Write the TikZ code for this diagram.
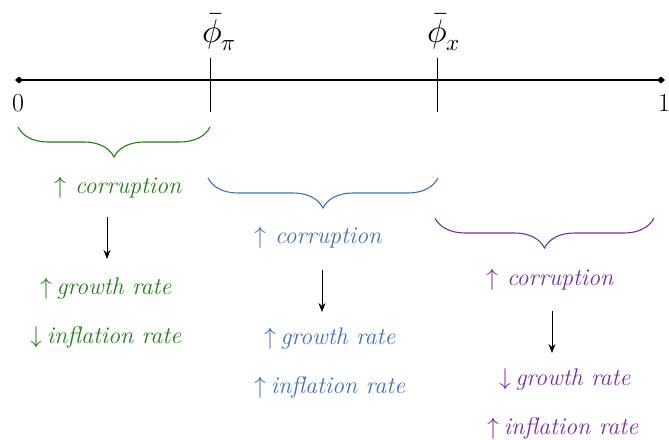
\documentclass[tikz,border=0pt]{standalone}
\usepackage{fontspec}
\usepackage{unicode-math}
\setmathfont{Latin Modern Math}
\usetikzlibrary{decorations.pathreplacing,arrows.meta}
\definecolor{cgreen}{RGB}{40,122,30}
\definecolor{cblue}{RGB}{72,112,168}
\definecolor{cpurple}{RGB}{116,50,150}
\tikzset{
  txt/.style={font=\fontsize{24}{28}\selectfont\itshape, inner sep=0pt, anchor=center},
  lbl/.style={font=\fontsize{26}{30}\selectfont, inner sep=0pt},
  phil/.style={font=\fontsize{33}{38}\selectfont, inner sep=0pt},
  bracebox/.style={decorate, decoration={brace, mirror, amplitude=30pt, aspect=0.5}, line width=1.1pt},
  flow/.style={-{Stealth[length=9pt,width=7pt]}, line width=0.8pt},
}
\begin{document}
\begin{tikzpicture}[x=1pt,y=-1pt]
\useasboundingbox (0,0) rectangle (669,439);
% axis
\coordinate (a0) at (15,80);
\coordinate (a1) at (665,80);
\draw[line width=1.6pt, {Diamond[length=8pt,width=7pt]}-{Diamond[length=8pt,width=7pt]}] (a0) -- (a1);
\coordinate (tp1) at (210,58); \coordinate (tp2) at (210,112);
\coordinate (tx1) at (437,58); \coordinate (tx2) at (437,112);
\draw[line width=0.8pt] (tp1) -- (tp2);
\draw[line width=0.8pt] (tx1) -- (tx2);
\node[lbl] (z0) at (18,103) {0};
\node[lbl] (z1) at (664,103) {1};
\node[phil] (phipi) at (219,32) {$\bar{\phi}_{\pi}$};
\node[phil] (phix) at (444,32) {$\bar{\phi}_{x}$};
% green
\coordinate (gb1) at (18,127); \coordinate (gb2) at (210,127);
\draw[bracebox, cgreen] (gb1) -- (gb2);
\node[txt, cgreen] (g1) at (118,188) {$\uparrow$\ corruption};
\coordinate (ga1) at (107,217); \coordinate (ga2) at (107,259);
\draw[flow] (ga1) -- (ga2);
\node[txt, cgreen] (g2) at (106,289) {$\uparrow$\,growth rate};
\node[txt, cgreen] (g3) at (106,337) {$\downarrow$\,inflation rate};
% blue
\coordinate (bb1) at (208,178); \coordinate (bb2) at (438,178);
\draw[bracebox, cblue] (bb1) -- (bb2);
\node[txt, cblue] (b1) at (318,238) {$\uparrow$\ corruption};
\coordinate (ba1) at (322,270); \coordinate (ba2) at (322,312);
\draw[flow] (ba1) -- (ba2);
\node[txt, cblue] (b2) at (330,339) {$\uparrow$\,growth rate};
\node[txt, cblue] (b3) at (330,387) {$\uparrow$\,inflation rate};
% purple
\coordinate (pb1) at (435,218); \coordinate (pb2) at (654,218);
\draw[bracebox, cpurple] (pb1) -- (pb2);
\node[txt, cpurple] (p1) at (550,280) {$\uparrow$\ corruption};
\coordinate (pa1) at (552,311); \coordinate (pa2) at (552,353);
\draw[flow] (pa1) -- (pa2);
\node[txt, cpurple] (p2) at (565,380) {$\downarrow$\,growth rate};
\node[txt, cpurple] (p3) at (563,428) {$\uparrow$\,inflation rate};
\end{tikzpicture}
\end{document}
